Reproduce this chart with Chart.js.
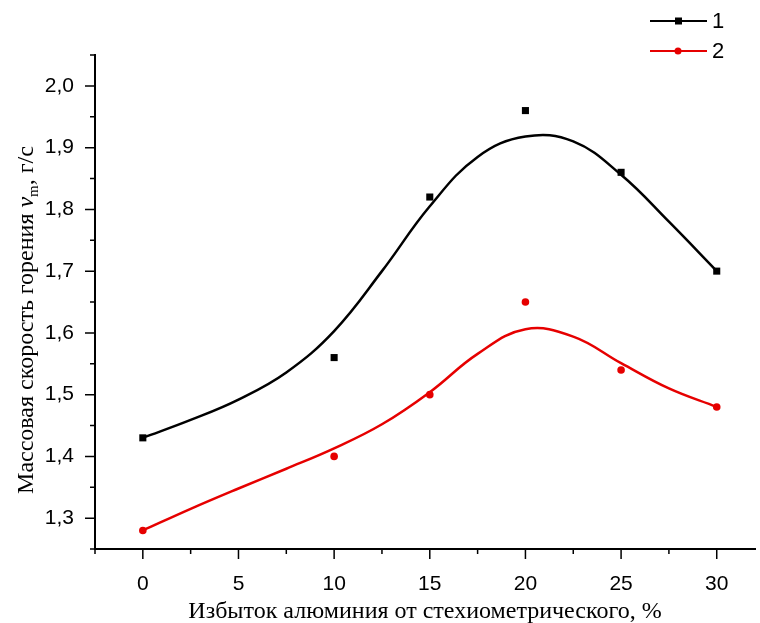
<!DOCTYPE html>
<html>
<head>
<meta charset="utf-8">
<script src="https://cdn.jsdelivr.net/npm/chart.js@4.4.1/dist/chart.umd.min.js"></script>
<style>
  html, body { margin: 0; padding: 0; background: #fff; }
  #wrap { width: 760px; height: 623px; }
</style>
</head>
<body>
<div id="wrap"><canvas id="myChart" width="760" height="623"></canvas></div>
<script>
// measured points
const xPoints = [0, 10, 15, 20, 25, 30];
const series1 = [1.43, 1.56, 1.82, 1.96, 1.86, 1.70];
const series2 = [1.28, 1.40, 1.50, 1.65, 1.54, 1.48];

// fitted curves
const xCurve = [0, 2.5, 5, 7.5, 10, 12.5, 15, 17.5, 20, 22.5, 25, 27.5, 30];
const curve1 = [1.43, 1.459, 1.492, 1.536, 1.603, 1.70, 1.805, 1.885, 1.918, 1.91, 1.856, 1.78, 1.70];
const curve2 = [1.28, 1.315, 1.348, 1.38, 1.413, 1.452, 1.504, 1.566, 1.606, 1.594, 1.551, 1.51, 1.48];

const seriesNames = ["1", "2"];
const seriesColors = ["#000000", "#e60000"];

const xTicks = [0, 5, 10, 15, 20, 25, 30];
const xMinorTicks = [-2.5, 2.5, 7.5, 12.5, 17.5, 22.5, 27.5];
const yTicks = [1.3, 1.4, 1.5, 1.6, 1.7, 1.8, 1.9, 2.0];
const yMinorTicks = [1.25, 1.35, 1.45, 1.55, 1.65, 1.75, 1.85, 1.95, 2.05];

const xTitle = "Избыток алюминия от стехиометрического, %";
const yTitleParts = ["Массовая скорость горения ", "v", "m", ", г/с"];

const toXY = (xs, ys) => xs.map((x, i) => ({ x: x, y: ys[i] }));

// ticks, titles and legend
const decorPlugin = {
  id: "decor",
  afterDraw(chart) {
    const ctx = chart.ctx;
    const xs = chart.scales.x;
    const ys = chart.scales.y;
    const area = chart.chartArea;
    ctx.save();
    ctx.strokeStyle = "#000";
    ctx.lineWidth = 1.5;
    ctx.beginPath();
    xTicks.forEach((v) => {
      const px = xs.getPixelForValue(v);
      ctx.moveTo(px, area.bottom);
      ctx.lineTo(px, area.bottom + 10);
    });
    xMinorTicks.forEach((v) => {
      const px = xs.getPixelForValue(v);
      ctx.moveTo(px, area.bottom);
      ctx.lineTo(px, area.bottom + 5);
    });
    yTicks.forEach((v) => {
      const py = ys.getPixelForValue(v);
      ctx.moveTo(area.left, py);
      ctx.lineTo(area.left - 10, py);
    });
    yMinorTicks.forEach((v) => {
      const py = ys.getPixelForValue(v);
      ctx.moveTo(area.left, py);
      ctx.lineTo(area.left - 5, py);
    });
    ctx.stroke();

    // x title
    ctx.fillStyle = "#000";
    ctx.font = "24px 'Liberation Serif'";
    ctx.textAlign = "center";
    ctx.textBaseline = "alphabetic";
    ctx.fillText(xTitle, (area.left + area.right) / 2, 618);

    // y title with italic v and subscript m
    ctx.translate(33, 320);
    ctx.rotate(-Math.PI / 2);
    const fonts = ["24px 'Liberation Serif'", "italic 24px 'Liberation Serif'", "15px 'Liberation Serif'", "24px 'Liberation Serif'"];
    const offs = [0, 0, 5, 0];
    let total = 0;
    yTitleParts.forEach((t, i) => {
      ctx.font = fonts[i];
      total += ctx.measureText(t).width;
    });
    let cx = -total / 2;
    ctx.textAlign = "left";
    yTitleParts.forEach((t, i) => {
      ctx.font = fonts[i];
      ctx.fillText(t, cx, offs[i]);
      cx += ctx.measureText(t).width;
    });
    ctx.setTransform(1, 0, 0, 1, 0, 0);
    ctx.restore();

    // legend
    ctx.save();
    seriesNames.forEach((name, i) => {
      const y = 21 + i * 30;
      ctx.strokeStyle = seriesColors[i];
      ctx.lineWidth = 2;
      ctx.beginPath();
      ctx.moveTo(650, y);
      ctx.lineTo(707, y);
      ctx.stroke();
      ctx.fillStyle = seriesColors[i];
      if (i === 0) {
        ctx.fillRect(675, y - 3.5, 7, 7);
      } else {
        ctx.beginPath();
        ctx.arc(678, y, 3.5, 0, Math.PI * 2);
        ctx.fill();
      }
      ctx.fillStyle = "#000";
      ctx.font = "22px 'Liberation Sans'";
      ctx.textAlign = "left";
      ctx.textBaseline = "middle";
      ctx.fillText(name, 712, y + 1);
    });
    ctx.restore();
  },
};

new Chart("myChart", {
  type: "scatter",
  data: {
    datasets: [
      {
        label: "curve 1",
        data: toXY(xCurve, curve1),
        showLine: true,
        borderColor: seriesColors[0],
        borderWidth: 2.5,
        pointRadius: 0,
        tension: 0.4,
      },
      {
        label: "curve 2",
        data: toXY(xCurve, curve2),
        showLine: true,
        borderColor: seriesColors[1],
        borderWidth: 2.5,
        pointRadius: 0,
        tension: 0.4,
      },
      {
        label: seriesNames[0],
        data: toXY(xPoints, series1),
        pointStyle: "rect",
        pointRadius: 5,
        backgroundColor: seriesColors[0],
        borderColor: seriesColors[0],
        borderWidth: 0,
      },
      {
        label: seriesNames[1],
        data: toXY(xPoints, series2),
        pointStyle: "circle",
        pointRadius: 3.8,
        backgroundColor: seriesColors[1],
        borderColor: seriesColors[1],
        borderWidth: 0,
      },
    ],
  },
  options: {
    animation: false,
    responsive: false,
    devicePixelRatio: 1,
    layout: { padding: { left: 0, right: 3, top: 55, bottom: 0 } },
    plugins: { legend: { display: false }, tooltip: { enabled: false } },
    scales: {
      x: {
        type: "linear",
        min: -2.5,
        max: 32,
        afterFit: (scale) => { scale.height = 74; },
        afterBuildTicks: (scale) => { scale.ticks = xTicks.map((v) => ({ value: v })); },
        grid: { display: false },
        border: { display: true, color: "#000", width: 2 },
        ticks: {
          padding: 15,
          color: "#000",
          font: { family: "'Liberation Sans'", size: 21 },
          callback: (v) => String(v),
        },
      },
      y: {
        type: "linear",
        min: 1.25,
        max: 2.05,
        afterFit: (scale) => { scale.width = 95; },
        afterBuildTicks: (scale) => { scale.ticks = yTicks.map((v) => ({ value: v })); },
        grid: { display: false },
        border: { display: true, color: "#000", width: 2 },
        ticks: {
          padding: 13,
          color: "#000",
          font: { family: "'Liberation Sans'", size: 21 },
          callback: (v) => v.toFixed(1).replace(".", ","),
        },
      },
    },
  },
  plugins: [decorPlugin],
});
</script>
</body>
</html>
